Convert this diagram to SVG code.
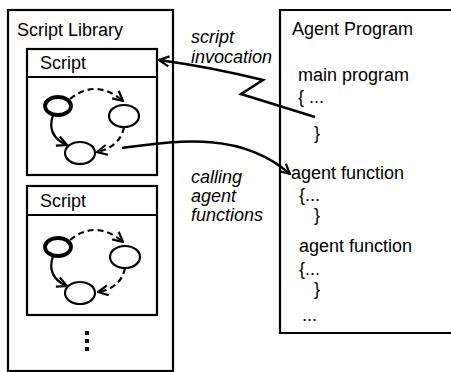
<svg xmlns="http://www.w3.org/2000/svg" width="451" height="372" viewBox="0 0 451 372">
<style>
  .box{fill:none;stroke:#000;stroke-width:2.2}
  .t{font-family:"Liberation Sans",Arial,sans-serif;font-size:18px;fill:#000}
  .it{font-family:"Liberation Sans",Arial,sans-serif;font-size:18px;font-style:italic;fill:#000}
  .st{fill:#fff;stroke:#000;stroke-width:2.2}
  .start{fill:#fff;stroke:#000;stroke-width:3.8}
  .tr{fill:none;stroke:#000;stroke-width:2.2}
  .dash{stroke-dasharray:6 4}
  .con{fill:none;stroke:#000;stroke-width:2.5}
</style>
<defs>
  <marker id="ah" viewBox="0 0 12 12" refX="11" refY="6" markerWidth="12" markerHeight="12" markerUnits="userSpaceOnUse" orient="auto">
    <path d="M1,1 L11,6 L1,11" fill="none" stroke="#000" stroke-width="2.2"/>
  </marker>
</defs>
<rect fill="#fff" x="0" y="0" width="451" height="372"/>

<g id="script-library">
  <rect class="box" x="8" y="10" width="165" height="361"/>
  <text class="t" x="17" y="36">Script Library</text>
</g>

<g id="script-1">
  <rect class="box" x="27" y="49" width="130" height="126"/>
  <line class="box" x1="27" y1="77" x2="157" y2="77"/>
  <text class="t" x="40" y="69">Script</text>
  <path class="tr dash" d="M70,99 Q96,78 123,101" marker-end="url(#ah)"/>
  <path class="tr dash" d="M124,127 Q120,147 97,152" marker-end="url(#ah)"/>
  <path class="tr" d="M53,115 Q46,136 67,145" marker-end="url(#ah)"/>
  <ellipse class="start" cx="58" cy="106" rx="13" ry="9"/>
  <ellipse class="st" cx="124" cy="116" rx="15" ry="11"/>
  <ellipse class="st" cx="80" cy="153" rx="15" ry="11"/>
</g>

<g id="script-2">
  <rect class="box" x="27" y="186" width="130" height="129"/>
  <line class="box" x1="27" y1="215" x2="157" y2="215"/>
  <text class="t" x="40" y="207">Script</text>
  <path class="tr dash" d="M70,240 Q96,219 123,242" marker-end="url(#ah)"/>
  <path class="tr dash" d="M125,268 Q121,288 98,292" marker-end="url(#ah)"/>
  <path class="tr" d="M53,256 Q46,277 67,286" marker-end="url(#ah)"/>
  <ellipse class="start" cx="58" cy="247" rx="13" ry="9"/>
  <ellipse class="st" cx="125" cy="257" rx="15" ry="11"/>
  <ellipse class="st" cx="80" cy="293" rx="15" ry="11"/>
</g>

<g id="more-scripts">
  <rect x="85" y="331" width="4" height="4"/>
  <rect x="85" y="339" width="4" height="4"/>
  <rect x="85" y="347" width="4" height="4"/>
</g>

<g id="agent-program">
  <path class="box" d="M452,10 L280,10 L280,333 L452,333"/>
  <text class="t" x="292" y="35">Agent Program</text>
  <text class="t" x="298" y="81">main program</text>
  <text class="t" x="298" y="103">{ ...</text>
  <text class="t" x="314" y="139">}</text>
  <text class="t" x="291" y="179">agent function</text>
  <text class="t" x="299" y="201">{...</text>
  <text class="t" x="314" y="221">}</text>
  <text class="t" x="299" y="252">agent function</text>
  <text class="t" x="299" y="275">{...</text>
  <text class="t" x="314" y="295">}</text>
  <text class="t" x="302" y="321">...</text>
</g>

<g id="labels">
  <text class="it" x="191" y="43">script</text>
  <text class="it" x="191" y="63">invocation</text>
  <text class="it" x="191" y="183">calling</text>
  <text class="it" x="191" y="202">agent</text>
  <text class="it" x="191" y="221">functions</text>
</g>

<g id="connectors">
  <path class="con" d="M315,117 L241,94 L263,80 Q210,67 159,60" marker-end="url(#ah)"/>
  <path class="con" d="M122,148 C175,141 240,130 290,174" marker-end="url(#ah)"/>
</g>
</svg>
